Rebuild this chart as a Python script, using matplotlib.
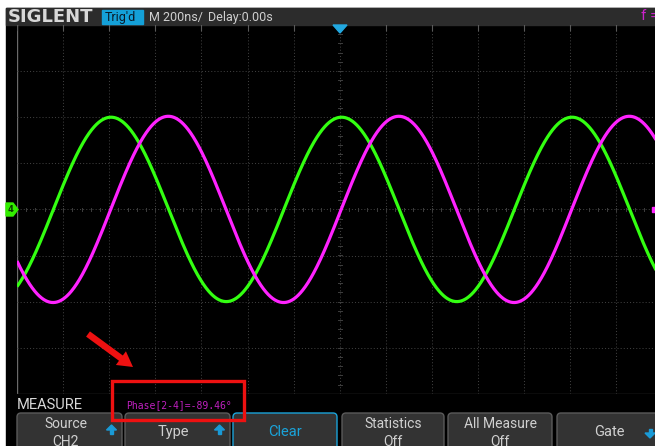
import numpy as np
import matplotlib
matplotlib.use("Agg")
import matplotlib.pyplot as plt
from matplotlib import patches

timebase_ns_per_div = 200
freq_mhz = 1.0
ch4_amplitude_div = 2.0      # green trace
ch2_amplitude_div = 2.02     # magenta trace
ch4_peak_ns = 8              # first green peak near screen centre
phase_2_4_deg = -89.46
n_hdiv = 14
n_vdiv = 8
top_texts = ["M 200ns/", "Delay:0.00s"]
measure_text = "Phase[2-4]=-89.46°"
button_labels = ["Source\nCH2", "Type", "Clear", "Statistics\nOff", "All Measure\nOff", "Gate"]

W, H = 655, 446
fig = plt.figure(figsize=(W / 100, H / 100), dpi=100)
fig.patch.set_facecolor("white")

# background overlay (pixel coordinates)
bg = fig.add_axes([0, 0, 1, 1], zorder=0)
bg.set_xlim(0, W); bg.set_ylim(H, 0); bg.axis("off")
bg.add_patch(patches.Rectangle((6, 8), W, H, color="black"))
bg.add_patch(patches.Rectangle((6, 8), W, 17, color="#2c2c2c"))

# scope axes
px_div = 46.1
left_px, top_px = 17, 25
ax = fig.add_axes([left_px / W, (H - (top_px + n_vdiv * px_div)) / H,
                   n_hdiv * px_div / W, n_vdiv * px_div / H], zorder=1)
ax.set_facecolor("none")
ax.set_xlim(-n_hdiv / 2, n_hdiv / 2)
ax.set_ylim(-n_vdiv / 2, n_vdiv / 2)
ax.set_xticks([]); ax.set_yticks([])
for s in ax.spines.values():
    s.set_visible(False)
ax.axvline(-n_hdiv / 2, color="#6a6a6a", lw=1.0)
ax.axhline(-n_vdiv / 2, color="#3a3a3a", lw=1.0)
grid_kw = dict(color="#3e3e3e", lw=0.75, ls=(0, (1, 2)))
for k in range(-n_hdiv // 2 + 1, n_hdiv // 2):
    ax.axvline(k, **grid_kw)
for k in range(-n_vdiv // 2 + 1, n_vdiv // 2):
    ax.axhline(k, **grid_kw)
# minor ticks on the centre cross
for m in np.arange(-n_hdiv / 2, n_hdiv / 2 + 0.01, 0.2):
    ax.plot([m, m], [-0.04, 0.04], color="#3e3e3e", lw=0.7)
for m in np.arange(-n_vdiv / 2, n_vdiv / 2 + 0.01, 0.2):
    ax.plot([-0.04, 0.04], [m, m], color="#3e3e3e", lw=0.7)
for k in range(-n_hdiv // 2, n_hdiv // 2 + 1):
    ax.plot([k, k], [n_vdiv / 2, n_vdiv / 2 - 0.1], color="#5a5a5a", lw=0.8)

# traces
x = np.linspace(-n_hdiv / 2, n_hdiv / 2, 2000)
t_ns = x * timebase_ns_per_div
period_ns = 1000.0 / freq_mhz
ch4 = ch4_amplitude_div * np.cos(2 * np.pi * (t_ns - ch4_peak_ns) / period_ns)
ch2 = ch2_amplitude_div * np.cos(2 * np.pi * (t_ns - ch4_peak_ns) / period_ns
                                 + np.deg2rad(phase_2_4_deg))
ax.plot(x, ch4, color="#33ff11", lw=2.3, solid_capstyle="butt")
ax.plot(x, ch2, color="#ff22ff", lw=2.3, solid_capstyle="butt")

# foreground overlay (pixel coordinates)
fg = fig.add_axes([0, 0, 1, 1], zorder=2)
fg.set_facecolor("none")
fg.set_xlim(0, W); fg.set_ylim(H, 0); fg.axis("off")

# top bar texts
fg.text(8, 17, "SIGLENT", color="#d8d8d8", fontsize=13, fontweight="bold",
        family="DejaVu Sans", va="center", ha="left")
fg.add_patch(patches.Rectangle((102, 10), 41, 14, color="#14a0d8"))
fg.text(105, 17.5, "Trig'd", color="#0a1a28", fontsize=9, family="Roboto",
        va="center", ha="left")
fg.text(149, 17.5, top_texts[0], color="#d0d0d0", fontsize=9, family="Roboto",
        va="center", ha="left")
fg.text(208, 17.5, top_texts[1], color="#d0d0d0", fontsize=9, family="Roboto",
        va="center", ha="left")
fg.text(641, 16.5, "f =", color="#cc22cc", fontsize=11, family="Roboto",
        va="center", ha="left")

# trigger marker
fg.add_patch(patches.Polygon([[333, 25], [347, 25], [340, 33]], color="#22a8e0"))
# channel 4 marker
fg.add_patch(patches.Polygon([[6, 203], [13, 203], [18, 209.5], [13, 216], [6, 216]],
                             color="#33ee00"))
fg.text(11, 209.5, "4", color="#0a3a00", fontsize=6, ha="center", va="center",
        family="DejaVu Sans", fontweight="bold")
fg.add_patch(patches.Rectangle((652, 207), 4, 5, color="#ff22ff"))

# measure row
fg.text(17, 405, "MEASURE", color="#d8d8d8", fontsize=10.5, family="Roboto",
        va="center", ha="left")
fg.text(126, 405, measure_text, color="#c020c0", fontsize=7, family="DejaVu Sans Mono",
        va="center", ha="left")

# buttons
btn_x = [(17, 122), (125, 230), (233, 337), (342, 444), (448, 552), (557, 670)]
for i, ((x0, x1), lab) in enumerate(zip(btn_x, button_labels)):
    sel = lab == "Clear"
    fg.add_patch(patches.FancyBboxPatch((x0 + 3, 416), x1 - x0 - 6, 40,
                                        boxstyle="round,pad=3,rounding_size=4",
                                        fc="#333333", ec="#1aa3d9" if sel else "#5a5a5a",
                                        lw=1.0))
    cx = (x0 + x1) / 2 - (4 if i == 0 else 0)
    if "\n" in lab:
        a, b = lab.split("\n")
        fg.text(cx, 424.5, a, color="#d0d0d0", fontsize=10, family="Roboto",
                ha="center", va="center")
        fg.text(cx, 441.5, b, color="#d0d0d0", fontsize=10, family="Roboto",
                ha="center", va="center")
    else:
        fg.text(cx - (4 if lab in ("Type", "Gate") else 0), 432, lab,
                color="#1aa3d9" if sel else "#d0d0d0", fontsize=10.5,
                family="Roboto", ha="center", va="center")

def blue_arrow(xc, yc, up=True):
    s = -1 if up else 1
    pts = [[xc - 5, yc], [xc + 5, yc], [xc, yc + s * 5]]
    fg.add_patch(patches.Polygon(pts, color="#1a9ad6"))
    fg.add_patch(patches.Rectangle((xc - 1.5, yc if up else yc - 4), 3, 4, color="#1a9ad6"))

blue_arrow(111.5, 430, up=True)
blue_arrow(219.5, 430, up=True)
blue_arrow(650, 433, up=False)

# red annotation
fg.add_patch(patches.Rectangle((112, 381), 132, 39, fill=False, ec="#ee1111", lw=2.4))
fg.add_patch(patches.FancyArrow(88, 334, 45, 33, width=6.5, head_width=17,
                                head_length=15, length_includes_head=True,
                                color="#ee1111", lw=0))

fig.savefig("out.png", dpi=100, facecolor=fig.get_facecolor())
